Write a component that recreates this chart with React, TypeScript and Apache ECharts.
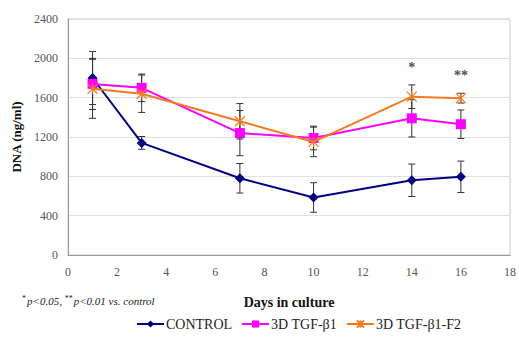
import React, { useEffect, useRef } from "react";
import * as echarts from "echarts";

const days = [1, 3, 7, 10, 14, 16];
const control = [1800, 1140, 780, 585, 760, 795];
const controlErr = [270, 65, 150, 150, 165, 160];
const tgf = [1740, 1700, 1240, 1190, 1390, 1330];
const tgfErr = [260, 140, 230, 120, 190, 145];
const tgfF2 = [1690, 1640, 1360, 1150, 1610, 1595];
const tgfF2Err = [300, 190, 180, 150, 120, 50];
const starDays = [14, 16];
const starValues = [1905, 1823];
const starTexts = ["*", "**"];

const SERIF = "'Liberation Serif', 'DejaVu Serif', serif";
const C_CONTROL = "#000080";
const C_TGF = "#FF00FF";
const C_F2 = "#F47A22";
const STAR_PATH = "path://M0,0L10,10M10,0L0,10M5,0L5,10";

function errData(vals: number[], errs: number[]) {
  return days.map((d, i) => [d, vals[i] - errs[i], vals[i] + errs[i]]);
}

function errSeries(vals: number[], errs: number[]) {
  return {
    type: "custom",
    data: errData(vals, errs),
    encode: { x: 0, y: [1, 2] },
    z: 1,
    silent: true,
    renderItem: (params: any, api: any) => {
      const x = api.value(0);
      const lo = api.value(1);
      const hi = api.value(2);
      const pHi = api.coord([x, hi]);
      const pLo = api.coord([x, lo]);
      const w = 3.5;
      const style = { stroke: "#333", lineWidth: 1 };
      return {
        type: "group",
        children: [
          { type: "line", shape: { x1: pHi[0], y1: pHi[1], x2: pLo[0], y2: pLo[1] }, style },
          { type: "line", shape: { x1: pHi[0] - w, y1: pHi[1], x2: pHi[0] + w, y2: pHi[1] }, style },
          { type: "line", shape: { x1: pLo[0] - w, y1: pLo[1], x2: pLo[0] + w, y2: pLo[1] }, style },
        ],
      };
    },
  };
}

export default function App() {
  const ref = useRef<HTMLDivElement>(null);
  useEffect(() => {
    if (!ref.current) return;
    const chart = echarts.init(ref.current, null, { renderer: "svg" });
    chart.setOption({
      animation: false,
      backgroundColor: "#fff",
      textStyle: { fontFamily: SERIF },
      grid: {
        left: 68,
        right: 7,
        top: 19,
        bottom: 85,
        show: true,
        borderColor: "#c8c8c8",
        borderWidth: 1,
      },
      xAxis: {
        type: "value",
        min: 0,
        max: 18,
        interval: 2,
        name: "Days in culture",
        nameLocation: "middle",
        nameGap: 40,
        nameTextStyle: { fontFamily: SERIF, fontWeight: "bold", fontSize: 14, color: "#111" },
        axisLine: { show: true, lineStyle: { color: "#999" } },
        axisTick: { show: false },
        splitLine: { show: false },
        axisLabel: {
          fontFamily: SERIF,
          fontSize: 12,
          color: "#555",
          margin: 11,
          showMaxLabel: true,
          formatter: (v: number) => String(v),
        },
      },
      yAxis: {
        type: "value",
        min: 0,
        max: 2400,
        interval: 400,
        name: "DNA (ng/ml)",
        nameLocation: "middle",
        nameGap: 45,
        nameTextStyle: { fontFamily: SERIF, fontWeight: "bold", fontSize: 13, color: "#111" },
        axisLine: { show: true, lineStyle: { color: "#999" } },
        axisTick: { show: false },
        splitLine: { show: true, lineStyle: { color: "#e0e0e0" } },
        axisLabel: {
          fontFamily: SERIF,
          fontSize: 12,
          color: "#555",
          margin: 10,
          formatter: (v: number) => String(v),
        },
      },
      legend: {
        data: ["CONTROL", "3D TGF-β1", "3D TGF-β1-F2"],
        left: 131,
        bottom: 4,
        itemWidth: 27,
        itemHeight: 9,
        itemGap: 9,
        textStyle: { fontFamily: SERIF, fontSize: 14, color: "#222", padding: [0, 0, 0, -3] },
      },
      graphic: [
        {
          type: "text",
          left: 22,
          top: 294,
          style: {
            text: "{s|*}{t|p<0.05, }{s|**}{t|p<0.01 vs. control}",
            rich: {
              s: { fontFamily: SERIF, fontSize: 8, fill: "#222", padding: [0, 1, 5, 0] },
              t: { fontFamily: SERIF, fontStyle: "italic", fontSize: 11, fill: "#222" },
            },
          },
        },
      ],
      series: [
        errSeries(control, controlErr),
        errSeries(tgf, tgfErr),
        errSeries(tgfF2, tgfF2Err),
        {
          name: "CONTROL",
          type: "line",
          data: days.map((d, i) => [d, control[i]]),
          symbol: "diamond",
          symbolSize: 10,
          lineStyle: { color: C_CONTROL, width: 2 },
          itemStyle: { color: C_CONTROL },
          z: 3,
        },
        {
          name: "3D TGF-β1",
          type: "line",
          data: days.map((d, i) => [d, tgf[i]]),
          symbol: "rect",
          symbolSize: 10,
          lineStyle: { color: C_TGF, width: 2 },
          itemStyle: { color: C_TGF },
          z: 3,
        },
        {
          name: "3D TGF-β1-F2",
          type: "line",
          data: days.map((d, i) => [d, tgfF2[i]]),
          symbol: STAR_PATH,
          symbolSize: 10,
          lineStyle: { color: C_F2, width: 2 },
          itemStyle: { color: "rgba(0,0,0,0)", borderColor: C_F2, borderWidth: 1.2 },
          z: 4,
        },
        {
          name: "stars",
          type: "scatter",
          data: starDays.map((d, i) => [d, starValues[i]]),
          symbolSize: 1,
          itemStyle: { color: "rgba(0,0,0,0)" },
          silent: true,
          label: {
            show: true,
            position: "inside",
            fontFamily: SERIF,
            fontSize: 14,
            fontWeight: "bold",
            color: "#222",
            formatter: (p: any) => starTexts[p.dataIndex],
          },
        },
      ],
    });
    return () => chart.dispose();
  }, []);
  return (
    <div
      ref={ref}
      style={{ position: "absolute", left: 0, top: 0, width: 519, height: 340 }}
    />
  );
}
